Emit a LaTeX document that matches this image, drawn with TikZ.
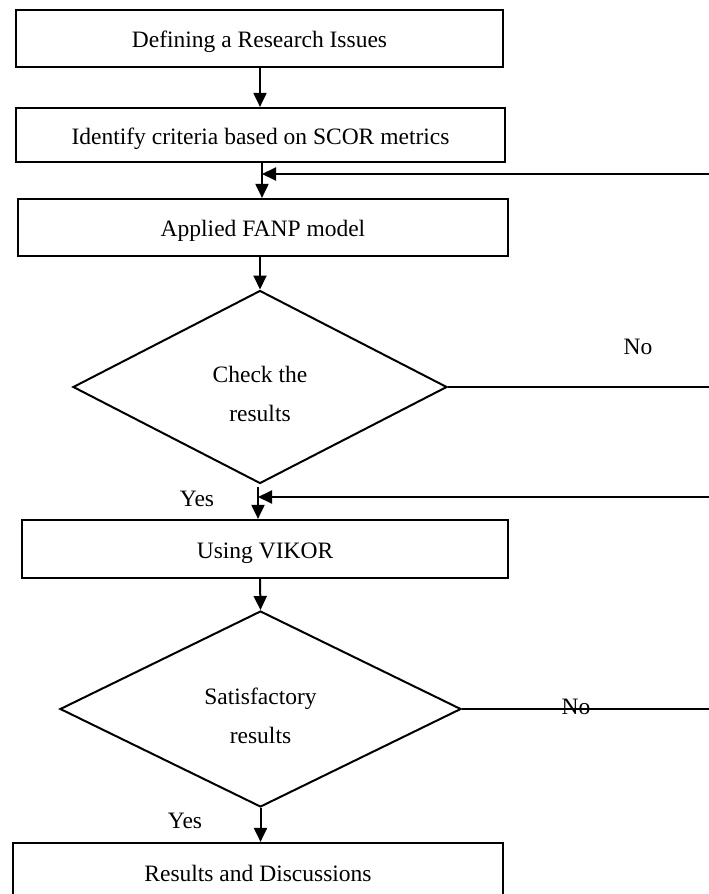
\documentclass[tikz,border=0pt]{standalone}
\usepackage{fontspec}
\setmainfont{Liberation Serif}
\usetikzlibrary{shapes.geometric,arrows.meta}
\begin{document}
\begin{tikzpicture}[x=1pt,y=-1pt,
  every node/.style={font=\fontsize{23.5}{27}\selectfont},
  procbox/.style={draw,line width=2.2pt,inner sep=0pt,minimum width=#1,minimum height=57pt,text height=22pt,text depth=4pt},
  decision/.style={draw,diamond,line width=2pt,inner sep=0pt,align=center},
  flow/.style={line width=2pt,-{Triangle[length=14pt,width=13pt]}},
  plainline/.style={line width=1.6pt},
  lbl/.style={inner sep=0pt}]
\useasboundingbox (0,0) rectangle (709,894);
\node[procbox=487pt] (b1) at (259.5,38.5) {Defining a Research Issues};
\node[procbox=489pt,minimum height=54pt] (b2) at (260.5,135) {Identify criteria based on SCOR metrics};
\node[procbox=490pt] (b3) at (263,227.5) {Applied FANP model};
\node[decision,minimum width=374pt,minimum height=193pt,aspect=1.94] (d1) at (260,387) {\rule{0pt}{30pt}Check the\\[12pt]results};
\node[procbox=486pt,minimum height=58pt] (b4) at (265,549) {Using VIKOR};
\node[decision,minimum width=401pt,minimum height=196pt,aspect=2.05] (d2) at (260.5,709) {\rule{0pt}{30pt}Satisfactory\\[12pt]results};
\node[procbox=490pt,minimum height=58pt] (b5) at (258,872) {Results and Discussions};

\coordinate (m1) at (262,174);
\coordinate (r1) at (709,174);
\coordinate (m2) at (258,497);
\coordinate (r2) at (709,497);
\coordinate (r3) at (709,388);
\coordinate (r4) at (709,713);
\coordinate (s1) at (258,487);

\draw[flow] (b1.south -| 260,0) -- (b2.north -| 260,0);
\draw[flow] (b2.south -| 262,0) -- (b3.north -| 262,0);
\draw[flow] (r1) -- (m1);
\draw[flow] (b3.south -| 260,0) -- (d1.north);
\draw[flow] (s1) -- (b4.north -| s1);
\draw[flow] (r2) -- (m2);
\draw[flow] (b4.south -| 260,0) -- (d2.north);
\draw[flow] (d2.south) -- (b5.north -| d2.south);
\draw[plainline] (d1.east) -- (d1.east -| r3);
\draw[plainline] (d2.east) -- (d2.east -| r4);

\node[lbl] (no1) at (638,347) {No};
\node[lbl] (no2) at (576,707) {No};
\node[lbl] (yes1) at (197,499) {Yes};
\node[lbl] (yes2) at (185,821) {Yes};
\end{tikzpicture}
\end{document}
